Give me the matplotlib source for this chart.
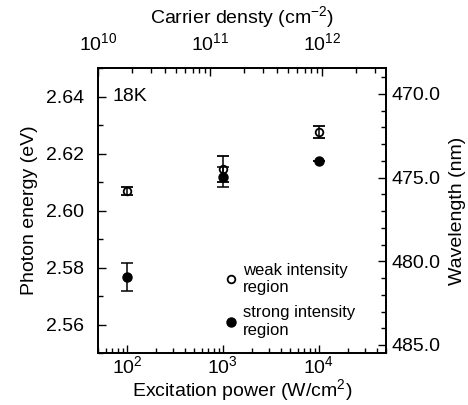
"""
Photon energy vs excitation power at 18K, with carrier density and wavelength axes.
"""
import matplotlib
matplotlib.use("Agg")
import matplotlib.pyplot as plt
from matplotlib.ticker import MultipleLocator, FormatStrFormatter, LogLocator
from matplotlib.lines import Line2D

plt.rcParams["font.family"] = ["Liberation Sans", "DejaVu Sans"]
plt.rcParams["mathtext.fontset"] = "custom"
plt.rcParams["mathtext.rm"] = "Liberation Sans"

POWER      = [100, 1000, 10000]
WEAK_E     = [2.6069, 2.6146, 2.6275]
WEAK_ERR   = [0.0013, 0.0045, 0.0020]
STRONG_E   = [2.5768, 2.6118, 2.6174]
STRONG_ERR = [0.0049, 0.0034, 0.0]

Y_TICKS  = [2.56, 2.58, 2.60, 2.62, 2.64]
WL_TICKS = [470, 475, 480, 485]


def main():
    fig = plt.figure(figsize=(4.68, 4.05), dpi=100)
    ax = fig.add_axes([0.2094, 0.1284, 0.6154, 0.7036])

    ax.errorbar(POWER, STRONG_E, yerr=STRONG_ERR, fmt="o", color="black",
                ms=6.5, capsize=4.5, elinewidth=1.1, capthick=1.1)
    ax.errorbar(POWER, WEAK_E, yerr=WEAK_ERR, fmt="o", color="black",
                mfc="none", mew=1.3, ms=5.5, capsize=4.5,
                elinewidth=1.1, capthick=1.1)

    ax.set_xscale("log")
    ax.set_xlim(50, 5e4)
    ax.set_ylim(2.55, 2.65)
    ax.set_yticks(Y_TICKS)
    ax.yaxis.set_major_formatter(FormatStrFormatter("%.2f"))
    ax.yaxis.set_minor_locator(MultipleLocator(0.01))
    ax.xaxis.set_minor_locator(LogLocator(base=10, subs=range(2, 10)))
    ax.tick_params(which="both", direction="in", top=False, right=False)
    ax.tick_params(axis="y", which="both", pad=10, labelsize=14)
    ax.tick_params(axis="x", which="both", pad=1.5, labelsize=14)
    ax.tick_params(which="major", length=6, width=1)
    ax.tick_params(which="minor", length=3.5, width=1)
    ax.set_xlabel("Excitation power (W/cm$^2$)", fontsize=14, labelpad=0)
    ax.set_ylabel("Photon energy (eV)", fontsize=14, labelpad=6)
    ax.text(0.05, 0.9, "18K", transform=ax.transAxes, fontsize=14,
            va="center", ha="left")

    handles = [
        Line2D([], [], ls="none", marker="o", mfc="none", mec="black",
               mew=1.3, ms=5.5),
        Line2D([], [], ls="none", marker="o", color="black", ms=6.5),
    ]
    ax.legend(handles, ["weak intensity\nregion", "strong intensity\nregion"],
              loc="lower left", bbox_to_anchor=(0.41, 0.03), frameon=False,
              fontsize=12, handlelength=1.0, handletextpad=0.2,
              labelspacing=0.6, borderaxespad=0)

    # wavelength axis on the right
    ax2 = ax.twinx()
    ax2.set_ylim(485.48, 468.45)
    ax2.set_yticks(WL_TICKS)
    ax2.yaxis.set_major_formatter(FormatStrFormatter("%.1f"))
    ax2.yaxis.set_minor_locator(MultipleLocator(1))
    ax2.tick_params(axis="y", which="both", direction="in", pad=4,
                    labelsize=14)
    ax2.tick_params(axis="y", which="major", length=6, width=1)
    ax2.tick_params(axis="y", which="minor", length=3.5, width=1)
    ax2.set_ylabel("Wavelength (nm)", fontsize=14, labelpad=6)

    # carrier density axis on top
    ax3 = ax.twiny()
    ax3.set_xscale("log")
    ax3.set_xlim(1e10, 3.73e12)
    ax3.xaxis.set_minor_locator(LogLocator(base=10, subs=range(2, 10)))
    ax3.tick_params(axis="x", which="both", direction="in", pad=10,
                    labelsize=14)
    ax3.tick_params(axis="x", which="major", length=6, width=1)
    ax3.tick_params(axis="x", which="minor", length=3.5, width=1)
    ax3.set_xlabel("Carrier densty (cm$^{-2}$)", fontsize=14, labelpad=6)

    for a in (ax, ax2, ax3):
        for s in a.spines.values():
            s.set_linewidth(1.1)

    fig.savefig("out.png", dpi=100)
    plt.close(fig)


if __name__ == "__main__":
    main()
